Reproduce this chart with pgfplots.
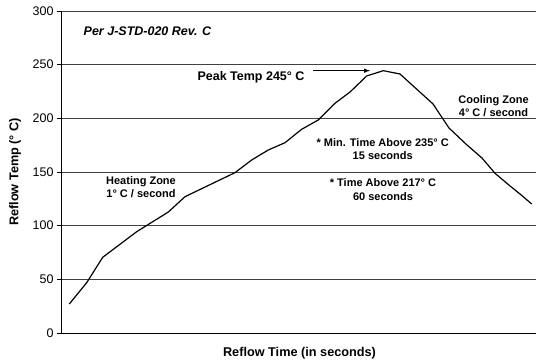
\documentclass[border=0pt]{standalone}
\usepackage{pgfplots}
\pgfplotsset{compat=1.18}
\usepackage{fontspec}
\setmainfont{Liberation Sans}
\begin{document}
\begin{tikzpicture}
\useasboundingbox (-62pt,-29pt) rectangle (474pt,333pt);
\begin{axis}[
  at={(0,0)}, anchor=south west, scale only axis,
  width=474pt, height=322pt,
  xmin=62, xmax=536, ymin=0, ymax=300,
  ytick={0,50,...,300}, xtick=\empty,
  axis x line=bottom, axis y line=left,
  axis line style={-, line width=1pt, black},
  ymajorgrids, grid style={black!75, line width=0.8pt},
  tick align=outside, major tick length=5pt,
  tick style={black, line width=0.8pt},
  yticklabel style={font=\fontsize{12.5}{14}\selectfont},
  /pgf/number format/assume math mode=true,
  clip=false,
]
\addplot[black, line width=1.2pt] coordinates {
(69.3,27.0) (86.7,46.9) (102.7,70.5) (136.7,94.4) (168.3,112.7) (185,127.0)
(235,149.4) (251.7,161.2) (268.3,170.5) (285,177.3) (301.7,189.8) (318.3,198.5)
(335,214) (350,224.5) (366.7,239.5) (383.3,244.4) (400,241.3) (433,213.4)
(449,191) (466,176) (482,163) (495,148.8) (510,137) (520,129.5) (531.7,120.2)
};
\node[font=\fontsize{12.5}{14}\selectfont\bfseries\itshape] at (axis cs:147.5,281.4) {Per J-STD-020 Rev. C};
\node[font=\fontsize{12.5}{14}\selectfont\bfseries] at (axis cs:251,238.5) {Peak Temp 245° C};
\draw[-latex, line width=1pt] (axis cs:313,244.4) -- (axis cs:370,244.4);
\node[align=center, font=\fontsize{11}{13.3}\selectfont\bfseries] at (axis cs:141,135.7) {Heating Zone\\1° C / second};
\node[align=center, font=\fontsize{11}{13.3}\selectfont\bfseries] at (axis cs:382.7,171.1) {* Min. Time Above 235° C\\15 seconds};
\node[align=center, font=\fontsize{11}{13.3}\selectfont\bfseries] at (axis cs:383,133.5) {* Time Above 217° C\\60 seconds};
\node[align=center, font=\fontsize{11}{13.3}\selectfont\bfseries] at (axis cs:493.5,211.2) {Cooling Zone\\4° C / second};
\end{axis}
\node[font=\fontsize{12.7}{14}\selectfont\bfseries] at (237.5pt,-20pt) {Reflow Time (in seconds)};
\node[font=\fontsize{12.7}{14}\selectfont\bfseries, rotate=90] at (-47pt,161pt) {Reflow Temp (° C)};
\end{tikzpicture}
\end{document}
